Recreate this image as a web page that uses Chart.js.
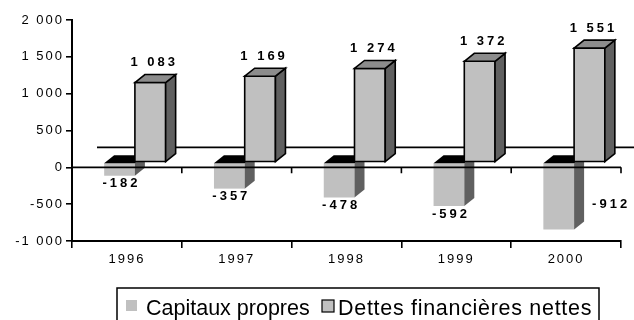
<!DOCTYPE html>
<html>
<head>
<meta charset="utf-8">
<script src="https://cdn.jsdelivr.net/npm/chart.js@4.4.1/dist/chart.umd.min.js"></script>
<style>
  html, body { margin: 0; padding: 0; background: #fff; }
  #wrap { width: 634px; height: 320px; }
</style>
</head>
<body>
<div id="wrap"><canvas id="bars"></canvas></div>
<script>
const years = ["1996", "1997", "1998", "1999", "2000"];
const capitauxPropres = [-182, -357, -478, -592, -912];
const dettesNettes = [1083, 1169, 1274, 1372, 1551];
const yTicks = [-1000, -500, 0, 500, 1000, 1500, 2000];
const seriesNames = ["Capitaux propres", "Dettes financières nettes"];

const FRONT = "#c0c0c0", SIDE = "#606060", TOP = "#8c8c8c";
const DX = 10, DY = -8;          // depth of the 3d blocks
const SHIFT_X = 8, SHIFT_Y = -5; // blocks sit on the floor, a bit behind the front axis
const FONT = "Arial, 'Liberation Sans', sans-serif";

// 1083 -> "1 083"
function fmt(v) {
  const s = String(Math.abs(v)).replace(/\B(?=(\d{3})+(?!\d))/g, " ");
  return (v < 0 ? "-" : "") + s;
}

function corners(bar) {
  const p = bar.getProps(["x", "y", "base", "width"], true);
  return { x0: p.x - p.width / 2, x1: p.x + p.width / 2, y: p.y, base: p.base, cx: p.x };
}

function poly(ctx, pts, fill, stroke) {
  ctx.beginPath();
  pts.forEach((p, i) => i ? ctx.lineTo(p[0], p[1]) : ctx.moveTo(p[0], p[1]));
  ctx.closePath();
  ctx.fillStyle = fill;
  ctx.fill();
  if (stroke) ctx.stroke();
}

function drawUp(ctx, b) {
  const { x0, x1, y, base } = corners(b);
  ctx.strokeStyle = "#000";
  ctx.lineWidth = 1.6;
  ctx.lineJoin = "miter";
  poly(ctx, [[x0, y], [x1, y], [x1, base], [x0, base]], FRONT, true);
  poly(ctx, [[x1, y], [x1 + DX, y + DY], [x1 + DX, base + DY], [x1, base]], SIDE, true);
  poly(ctx, [[x0, y], [x0 + DX, y + DY], [x1 + DX, y + DY], [x1, y]], TOP, true);
}

function drawDown(ctx, b) {
  const { x0, x1, y, base } = corners(b);
  poly(ctx, [[x0, base], [x1, base], [x1, y], [x0, y]], FRONT, false);
  poly(ctx, [[x1, base], [x1 + DX, base + DY], [x1 + DX, y + DY], [x1, y]], SIDE, false);
  poly(ctx, [[x0, base], [x0 + DX, base + DY], [x1 + DX, base + DY], [x1, base]], "#000", false);
}

const bars3d = {
  id: "bars3d",
  beforeDraw(chart) {
    chart.ctx.letterSpacing = "2px";
  },
  beforeDatasetsDraw(chart) {
    const ctx = chart.ctx, area = chart.chartArea;
    const zero = chart.scales.y.getPixelForValue(0);

    // back edge of the floor
    ctx.save();
    ctx.strokeStyle = "#000";
    ctx.lineWidth = 1.6;
    ctx.beginPath();
    ctx.moveTo(area.left + 25, zero - 20);
    ctx.lineTo(chart.width, zero - 20);
    ctx.stroke();
    ctx.restore();

    const neg = chart.getDatasetMeta(0).data;
    const pos = chart.getDatasetMeta(1).data;
    ctx.save();
    ctx.translate(SHIFT_X, SHIFT_Y);
    neg.forEach((bar, i) => {
      drawDown(ctx, bar);
      drawUp(ctx, pos[i]);
    });
    ctx.restore();
    return false;
  },
  afterDraw(chart) {
    const ctx = chart.ctx, area = chart.chartArea;
    const zero = chart.scales.y.getPixelForValue(0);
    const step = (area.right - area.left) / years.length;

    // zero line with its category ticks
    ctx.save();
    ctx.letterSpacing = "0px";
    ctx.strokeStyle = "#000";
    ctx.lineWidth = 1.6;
    ctx.beginPath();
    ctx.moveTo(area.left, zero);
    ctx.lineTo(area.right, zero);
    for (let k = 1; k <= years.length; k++) {
      const x = area.left + k * step;
      ctx.moveTo(x, zero);
      ctx.lineTo(x, zero + 6);
    }
    ctx.stroke();
    ctx.restore();

    // value labels
    ctx.save();
    ctx.translate(SHIFT_X, SHIFT_Y);
    ctx.font = "bold 13px " + FONT;
    ctx.letterSpacing = "3px";
    ctx.fillStyle = "#000";
    ctx.textBaseline = "middle";
    chart.getDatasetMeta(1).data.forEach((bar, i) => {
      const c = corners(bar);
      ctx.textAlign = "center";
      ctx.fillText(fmt(dettesNettes[i]), c.cx + DX / 2 - 1, c.y + DY - 12);
    });
    chart.getDatasetMeta(0).data.forEach((bar, i) => {
      const c = corners(bar);
      if (c.y + 18 > area.bottom) {
        ctx.textAlign = "left";
        ctx.fillText(fmt(capitauxPropres[i]), c.x1 + DX + 8, c.y - 25);
      } else {
        ctx.textAlign = "center";
        ctx.fillText(fmt(capitauxPropres[i]), c.cx + 2, c.y + 8);
      }
    });
    ctx.restore();

    // legend
    ctx.save();
    ctx.strokeStyle = "#000";
    ctx.lineWidth = 1.5;
    ctx.strokeRect(117, 288, 482, 40);
    ctx.fillStyle = FRONT;
    ctx.fillRect(126, 300, 11, 11);
    ctx.fillRect(322, 300, 12, 12);
    ctx.lineWidth = 1.2;
    ctx.strokeRect(322, 300, 12, 12);
    ctx.fillStyle = "#000";
    ctx.font = "21.5px " + FONT;
    ctx.textAlign = "left";
    ctx.textBaseline = "alphabetic";
    ctx.letterSpacing = "0px";
    ctx.fillText(seriesNames[0], 146, 315);
    ctx.letterSpacing = "0.7px";
    ctx.fillText(seriesNames[1], 338, 315);
    ctx.restore();
  }
};

new Chart(document.getElementById("bars"), {
  type: "bar",
  data: {
    labels: years,
    datasets: [
      { label: seriesNames[0], data: capitauxPropres, backgroundColor: FRONT },
      { label: seriesNames[1], data: dettesNettes, backgroundColor: FRONT }
    ]
  },
  options: {
    responsive: true,
    maintainAspectRatio: false,
    animation: false,
    categoryPercentage: 0.56,
    barPercentage: 1,
    layout: { padding: { top: 20, right: 13, left: 0, bottom: 0 } },
    plugins: {
      legend: { display: false },
      tooltip: { enabled: false }
    },
    scales: {
      x: {
        grid: { offset: true, drawOnChartArea: false, drawTicks: true, tickLength: 7, color: "#000", lineWidth: 1.6 },
        border: { display: true, color: "#000", width: 2 },
        ticks: { color: "#000", font: { family: FONT, size: 13 }, padding: 4, maxRotation: 0 },
        afterFit: s => { s.height = 79; }
      },
      y: {
        min: -1000,
        max: 2000,
        afterBuildTicks: s => { s.ticks = yTicks.map(v => ({ value: v })); },
        grid: { drawOnChartArea: false, drawTicks: true, tickLength: 6, color: "#000", lineWidth: 1.6 },
        border: { display: true, color: "#000", width: 2 },
        ticks: { color: "#000", font: { family: FONT, size: 13 }, padding: 2, callback: v => fmt(v) },
        afterFit: s => { s.width = 72; }
      }
    }
  },
  plugins: [bars3d]
});
</script>
</body>
</html>
